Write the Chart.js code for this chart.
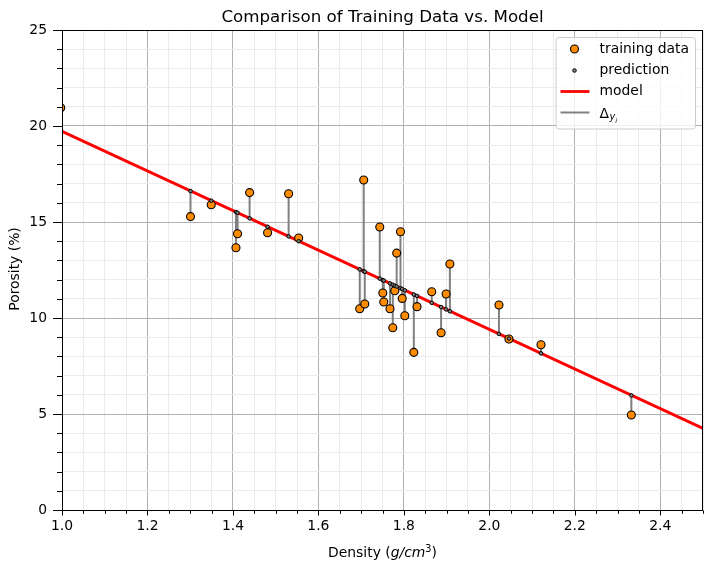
<!DOCTYPE html>
<html><head><meta charset="utf-8">
<script src="https://cdn.jsdelivr.net/npm/chart.js@4/dist/chart.umd.min.js"></script>
<style>html,body{margin:0;padding:0;background:#fff}canvas{display:block}</style>
</head><body>
<canvas id="c" width="711" height="576"></canvas>
<script>
// ---- data ----
const density = [0.997, 1.3007, 1.3492, 1.4071, 1.4108, 1.4390, 1.4811, 1.5303, 1.5538,
  1.6967, 1.7061, 1.7085, 1.7436, 1.7507, 1.7530, 1.7675, 1.7741, 1.7788, 1.7832, 1.7921,
  1.7961, 1.8022, 1.8233, 1.8308, 1.8652, 1.8871, 1.8988, 1.9077, 2.0225, 2.0459, 2.1209, 2.3323];
const porosity = [20.95, 15.28, 15.90, 13.66, 14.39, 16.53, 14.44, 16.47, 14.17,
  10.48, 17.19, 10.73, 14.74, 11.30, 10.83, 10.48, 9.49, 11.42, 13.38, 14.49,
  11.02, 10.12, 8.21, 10.59, 11.37, 9.23, 11.25, 12.81, 10.68, 8.91, 8.61, 4.95];
const predicted = [19.75, 16.61, 16.11, 15.52, 15.48, 15.19, 14.75, 14.25, 14.00,
  12.53, 12.43, 12.41, 12.05, 11.97, 11.95, 11.80, 11.73, 11.68, 11.64, 11.55,
  11.51, 11.44, 11.22, 11.15, 10.79, 10.57, 10.45, 10.35, 9.17, 8.93, 8.16, 5.97];
const modelX = [1.0, 2.5];
const modelY = [19.72, 4.25];
const xMajorTicks = [1.0, 1.2, 1.4, 1.6, 1.8, 2.0, 2.2, 2.4];
const yMajorTicks = [0, 5, 10, 15, 20, 25];

const FONT = "'DejaVu Sans', sans-serif";
const isMajX = v => xMajorTicks.some(t => Math.abs(t - v) < 1e-6);
const isMajY = v => yMajorTicks.some(t => Math.abs(t - v) < 1e-6);

const trainPts = density.map((x, i) => ({x, y: porosity[i]}));
const predPts = density.map((x, i) => ({x, y: predicted[i]}));
const modelPts = modelX.map((x, i) => ({x, y: modelY[i]}));
const residPts = [];
density.forEach((x, i) => {
  residPts.push({x, y: porosity[i]}, {x, y: predicted[i]}, {x, y: null});
});

const decor = {
  id: 'decor',
  afterDraw(chart) {
    const ctx = chart.ctx, a = chart.chartArea;
    const xs = chart.scales.x, ys = chart.scales.y;
    ctx.save();
    // frame
    const L = Math.round(a.left) + 0.5, R = Math.round(a.right) - 0.5;
    const T = Math.round(a.top) + 0.5, B = Math.round(a.bottom) + 0.5;
    ctx.strokeStyle = '#000'; ctx.lineWidth = 1;
    ctx.strokeRect(L, T, R - L, B - T);
    // tick marks
    ctx.beginPath();
    xs.ticks.forEach(t => {
      const px = Math.round(xs.getPixelForValue(t.value)) + 0.5;
      const len = isMajX(t.value) ? 5 : 3.3;
      ctx.moveTo(px, B); ctx.lineTo(px, B + len);
    });
    ys.ticks.forEach(t => {
      const py = Math.round(ys.getPixelForValue(t.value)) + 0.5;
      const len = isMajY(t.value) ? 9.5 : 5.5;
      ctx.moveTo(L, py); ctx.lineTo(L - len, py);
    });
    ctx.stroke();
    // title
    ctx.fillStyle = '#000';
    ctx.font = `16.7px ${FONT}`;
    ctx.textAlign = 'center'; ctx.textBaseline = 'alphabetic';
    ctx.fillText('Comparison of Training Data vs. Model', (a.left + a.right) / 2, 22);
    // y label
    ctx.save();
    ctx.translate(19, 269);
    ctx.rotate(-Math.PI / 2);
    ctx.font = `13.9px ${FONT}`;
    ctx.fillText('Porosity (%)', 0, 0);
    ctx.restore();
    // x label with italic / superscript
    const parts = [
      {t: 'Density (', f: `13.9px ${FONT}`, dy: 0},
      {t: 'g/cm', f: `italic 13.9px ${FONT}`, dy: 0},
      {t: '3', f: `9.7px ${FONT}`, dy: -5.5},
      {t: ')', f: `13.9px ${FONT}`, dy: 0}
    ];
    let w = 0;
    parts.forEach(p => { ctx.font = p.f; p.w = ctx.measureText(p.t).width; w += p.w; });
    let x0 = (a.left + a.right) / 2 - w / 2;
    ctx.textAlign = 'left';
    parts.forEach(p => { ctx.font = p.f; ctx.fillText(p.t, x0, 557 + p.dy); x0 += p.w; });
    // legend
    const lx = 556, ly = 37.5, lw = 139.5, lh = 91.5;
    ctx.beginPath();
    ctx.roundRect(lx, ly, lw, lh, 3);
    ctx.fillStyle = 'rgba(255,255,255,0.8)'; ctx.fill();
    ctx.strokeStyle = '#cccccc'; ctx.lineWidth = 1; ctx.stroke();
    const hx = 574.5, tx = 599.5;
    const rows = [49, 70.5, 91.5, 112.5];
    ctx.beginPath(); ctx.arc(hx, rows[0], 4, 0, Math.PI * 2);
    ctx.fillStyle = '#ff8c00'; ctx.fill(); ctx.strokeStyle = '#000'; ctx.lineWidth = 1.1; ctx.stroke();
    ctx.beginPath(); ctx.arc(hx, rows[1], 1.8, 0, Math.PI * 2);
    ctx.fillStyle = '#808080'; ctx.fill(); ctx.lineWidth = 1; ctx.stroke();
    ctx.beginPath(); ctx.moveTo(560.5, rows[2]); ctx.lineTo(589.5, rows[2]);
    ctx.strokeStyle = '#ff0000'; ctx.lineWidth = 2.8; ctx.stroke();
    ctx.beginPath(); ctx.moveTo(560.5, rows[3]); ctx.lineTo(589.5, rows[3]);
    ctx.strokeStyle = '#808080'; ctx.lineWidth = 2; ctx.stroke();
    ctx.fillStyle = '#000'; ctx.textBaseline = 'middle'; ctx.textAlign = 'left';
    ctx.font = `13.9px ${FONT}`;
    ctx.fillText('training data', tx, rows[0]);
    ctx.fillText('prediction', tx, rows[1]);
    ctx.fillText('model', tx, rows[2]);
    ctx.textBaseline = 'alphabetic';
    const dBase = rows[3] + 5;
    ctx.fillText('Δ', tx, dBase);
    const dw = ctx.measureText('Δ').width;
    ctx.font = `italic 9.7px ${FONT}`;
    ctx.fillText('y', tx + dw + 0.5, dBase + 2.5);
    const yw = ctx.measureText('y').width;
    ctx.font = `italic 6.9px ${FONT}`;
    ctx.fillText('i', tx + dw + 0.5 + yw, dBase + 5);
    ctx.restore();
  }
};

new Chart(document.getElementById('c'), {
  type: 'scatter',
  data: {
    datasets: [
      {label: 'training data', data: trainPts, pointRadius: 4, pointBackgroundColor: '#ff8c00',
       pointBorderColor: '#000', pointBorderWidth: 1.1, order: 2, clip: 0},
      {label: 'prediction', data: predPts, pointRadius: 1.8, pointBackgroundColor: '#808080',
       pointBorderColor: '#000', pointBorderWidth: 1, order: 1, clip: 0},
      {label: 'model', data: modelPts, showLine: true, pointRadius: 0, borderColor: '#ff0000',
       borderWidth: 2.8, order: 3, clip: 0},
      {label: 'Δ', data: residPts, showLine: true, spanGaps: false, pointRadius: 0,
       borderColor: '#808080', borderWidth: 2, order: 4, clip: 0}
    ]
  },
  options: {
    responsive: false,
    animation: false,
    events: [],
    layout: {padding: {top: 30, right: 6.6, left: 0, bottom: 0}},
    plugins: {legend: {display: false}, tooltip: {enabled: false}, title: {display: false}},
    scales: {
      x: {
        type: 'linear', min: 1.0, max: 2.5,
        afterFit: s => { s.height = 66; },
        border: {display: false},
        grid: {
          drawTicks: false,
          color: c => isMajX(c.tick.value) ? '#b0b0b0' : '#ebebeb',
          lineWidth: 1
        },
        ticks: {
          stepSize: 0.05, autoSkip: false, maxRotation: 0, padding: 8,
          color: '#000', font: {family: 'DejaVu Sans', size: 13.9},
          callback: v => isMajX(v) ? v.toFixed(1) : ''
        }
      },
      y: {
        type: 'linear', min: 0, max: 25,
        afterFit: s => { s.width = 62; },
        border: {display: false},
        grid: {
          drawTicks: false,
          color: c => isMajY(c.tick.value) ? '#b0b0b0' : '#ebebeb',
          lineWidth: 1
        },
        ticks: {
          stepSize: 1, autoSkip: false, padding: 15,
          color: '#000', font: {family: 'DejaVu Sans', size: 13.9},
          callback: v => isMajY(v) ? String(v) : ''
        }
      }
    }
  },
  plugins: [decor]
});
</script>
</body></html>
